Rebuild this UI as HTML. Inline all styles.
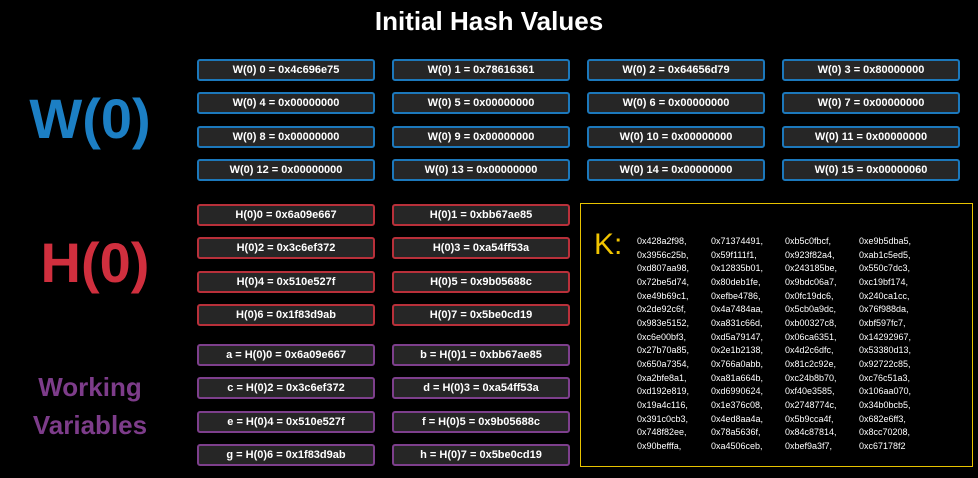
<!DOCTYPE html>
<html><head><style>
body{margin:0;width:978px;height:478px;background:#000;position:relative;overflow:hidden;font-family:"Liberation Sans","DejaVu Sans",sans-serif;}
.t{position:absolute;color:#fff;font-weight:bold;}
.b{position:absolute;width:174px;height:18px;background:#262626;border:2px solid;border-radius:3px;color:#fff;font-size:11px;font-weight:bold;text-align:center;line-height:18px;}
.w{border-color:#1c78bb}.h{border-color:#b8303a}.v{border-color:#7d3f8c}
.k{position:absolute;color:#fff;font-size:9px;line-height:13.65px;white-space:pre;}
</style></head><body>
<div class="t" style="left:0;width:978px;text-align:center;top:6px;font-size:26px;">Initial Hash Values</div>
<div class="t" style="left:20px;width:140px;text-align:center;top:86px;font-size:56px;color:#1c7fc4;">W(0)</div>
<div class="t" style="left:25px;width:140px;text-align:center;top:230px;font-size:56px;color:#d02f3e;">H(0)</div>
<div class="t" style="left:10px;width:160px;text-align:center;top:368px;font-size:26px;line-height:38px;color:#7d3c8a;">Working<br>Variables</div>
<div id="c"></div>
<div style="position:absolute;left:580px;top:203px;width:391px;height:262px;border:1px solid #e8c300;"></div>
<div style="position:absolute;left:594px;top:228px;font-size:30px;color:#f2c500;">K:</div>
<script>
var c=document.getElementById('c'),h='';
var wv=['0x4c696e75','0x78616361','0x64656d79','0x80000000','0x00000000','0x00000000','0x00000000','0x00000000','0x00000000','0x00000000','0x00000000','0x00000000','0x00000000','0x00000000','0x00000000','0x00000060'];
var xs=[197,392,587,782],wy=[59,92,126,159];
for(var i=0;i<16;i++)h+='<div class="b w" style="left:'+xs[i%4]+'px;top:'+wy[i>>2]+'px">W(0) '+i+' = '+wv[i]+'</div>';
var hv=['0x6a09e667','0xbb67ae85','0x3c6ef372','0xa54ff53a','0x510e527f','0x9b05688c','0x1f83d9ab','0x5be0cd19'];
var hy=[204,237,271,304],vy=[344,377,411,444],ln='abcdefgh';
for(var i=0;i<8;i++){
h+='<div class="b h" style="left:'+xs[i%2]+'px;top:'+hy[i>>1]+'px">H(0)'+i+' = '+hv[i]+'</div>';
h+='<div class="b v" style="left:'+xs[i%2]+'px;top:'+vy[i>>1]+'px">'+ln[i]+' = H(0)'+i+' = '+hv[i]+'</div>';}
var k=[['0x428a2f98','0x3956c25b','0xd807aa98','0x72be5d74','0xe49b69c1','0x2de92c6f','0x983e5152','0xc6e00bf3','0x27b70a85','0x650a7354','0xa2bfe8a1','0xd192e819','0x19a4c116','0x391c0cb3','0x748f82ee','0x90befffa'],
['0x71374491','0x59f111f1','0x12835b01','0x80deb1fe','0xefbe4786','0x4a7484aa','0xa831c66d','0xd5a79147','0x2e1b2138','0x766a0abb','0xa81a664b','0xd6990624','0x1e376c08','0x4ed8aa4a','0x78a5636f','0xa4506ceb'],
['0xb5c0fbcf','0x923f82a4','0x243185be','0x9bdc06a7','0x0fc19dc6','0x5cb0a9dc','0xb00327c8','0x06ca6351','0x4d2c6dfc','0x81c2c92e','0xc24b8b70','0xf40e3585','0x2748774c','0x5b9cca4f','0x84c87814','0xbef9a3f7'],
['0xe9b5dba5','0xab1c5ed5','0x550c7dc3','0xc19bf174','0x240ca1cc','0x76f988da','0xbf597fc7','0x14292967','0x53380d13','0x92722c85','0xc76c51a3','0x106aa070','0x34b0bcb5','0x682e6ff3','0x8cc70208','0xc67178f2']];
var kx=[637,711,785,859];
for(var j=0;j<4;j++){var s=k[j].map(function(x,i){return x+((j==3&&i==15)?'':',')}).join('\n');
h+='<div class="k" style="left:'+kx[j]+'px;top:235px">'+s+'</div>';}
c.innerHTML=h;
</script>
</body></html>
